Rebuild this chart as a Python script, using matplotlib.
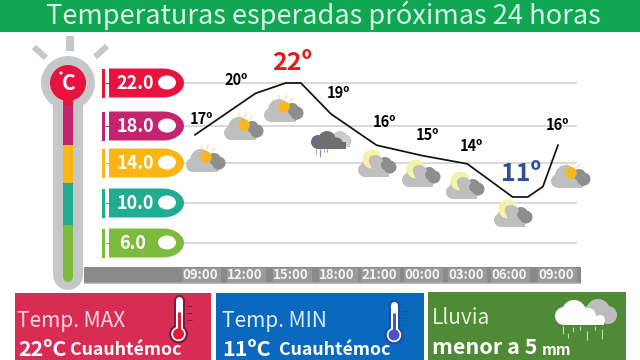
import numpy as np
import matplotlib
matplotlib.use("Agg")
import matplotlib.pyplot as plt
from matplotlib.patches import Rectangle, Circle, Ellipse, Polygon

# ---------- data ----------
title = "Temperaturas esperadas próximas 24 horas"
hours = [0, 3, 4, 6, 7, 9, 12, 15, 18, 21, 22, 23, 24]
temps = [17, 20, 21, 22, 22, 19, 16, 15, 14.2, 11, 11, 12, 16]
label_hours = [0, 3, 6, 9, 12, 15, 18, 21, 24]
label_temps = [17, 20, 22, 19, 16, 15, 14, 11, 16]
tick_labels = ["09:00", "12:00", "15:00", "18:00", "21:00", "00:00", "03:00", "06:00", "09:00"]
scale_values = ["22.0", "18.0", "14.0", "10.0", "6.0"]
scale_colors = ["#e8123f", "#c4246f", "#fbb616", "#20ab92", "#7dbb3c"]

# ---------- layout (pixels) ----------
W, H = 640, 360
plt.rcParams["font.family"] = ["Noto Sans CJK JP", "DejaVu Sans"]
fig = plt.figure(figsize=(6.4, 3.6), dpi=100, facecolor="white")
bg = fig.add_axes([0, 0, 1, 1], zorder=1)
bg.set_xlim(0, W); bg.set_ylim(H, 0); bg.axis("off")

def rect(x0, y0, x1, y1, c, z=2):
    bg.add_patch(Rectangle((x0, y0), x1 - x0, y1 - y0, fc=c, ec="none", zorder=z))

def circ(x, y, r, c, z=3):
    bg.add_patch(Circle((x, y), r, fc=c, ec="none", zorder=z))

def seg(x0, y0, x1, y1, c, w, z=3, cap="butt"):
    bg.plot([x0, x1], [y0, y1], color=c, lw=w * 0.72, zorder=z, solid_capstyle=cap)

# header
rect(0, 0, 640, 31.5, "#11a653")
bg.text(323, 24, title, color="#d8f7e2", fontsize=19.6, ha="center", va="baseline", zorder=5)

# grid lines and scale pills
grid_y = [83, 126, 163, 203, 243]
for y in grid_y:
    seg(184, y, 577, y, "#cfcfcf", 1.5, z=2)
for y, txt, c in zip(grid_y, scale_values, scale_colors):
    rect(102, y - 14, 105, y + 15, c)
    seg(105, y, 109, y, c, 1)
    t = np.linspace(-90, 90, 30)
    xs = 163 + 21 * np.cos(np.radians(t))
    ys = y + 14.5 * np.sin(np.radians(t))
    pts = [(109, y - 14.5)] + list(zip(xs, ys)) + [(109, y + 14.5)]
    bg.add_patch(Polygon(pts, closed=True, fc=c, ec="none", zorder=3))
    bg.add_patch(Ellipse((167, y - 0.5), 18, 14, fc="white", ec="none", zorder=4))
    bg.text(135 if txt != "6.0" else 133, y + 0.5, txt, color="white", fontsize=13,
            fontweight="bold", ha="center", va="center", zorder=5)

# thermometer
GREY = "#c6c7c9"
circ(68, 83, 27, GREY, 2)
seg(68, 90, 68, 275, GREY, 30, z=2, cap="round")
rect(63, 90, 73, 108, "#e8123f")
rect(63, 105, 73, 145, "#c4246f")
rect(63, 145, 73, 183, "#fbb616")
rect(63, 183, 73, 225, "#20ab92")
rect(63, 225, 73, 277, "#7dbb3c")
circ(68, 277, 5, "#7dbb3c")
circ(68, 83, 18, "#e8123f", 4)
bg.text(69, 83, "C", color="white", fontsize=15, fontweight="bold", ha="center", va="center", zorder=5)
circ(61, 73, 1.6, "white", 5)
seg(69.5, 36, 69.5, 51, GREY, 8)
seg(34, 47, 46, 58, GREY, 6)
seg(107, 46, 95, 57, GREY, 6)

# axis band
rect(84, 267, 581, 283, "#8a8a8a")
seg(84, 283, 581, 283, "#a6a6a6", 1.5)
tick_x = [200, 245, 291, 337, 379, 422, 466, 509, 556]
for x, lab in zip(tick_x, tick_labels):
    rect(x - 18, 268, x + 21, 282.5, "#9a9a9a")
    bg.text(x, 275, lab, color="#f3f3f3", fontsize=9.5, fontweight="bold",
            ha="center", va="center", zorder=5)

# weather icons
def cloud(x, b, c, z):
    circ(x + 8, b - 7, 7, c, z)
    circ(x + 16, b - 12, 11, c, z)
    circ(x + 26, b - 8, 8, c, z)
    rect(x + 8, b - 9, x + 32, b, c, z)

def dark_cloud(x, b, z=3):
    c = "#8e8e8e"
    circ(x + 29, b - 12, 7, c, z)
    circ(x + 34, b - 9, 6.5, c, z)
    circ(x + 29, b - 6, 6, c, z)

def sun_icon(x, b):
    sx, sy = x + 21, b - 15
    for a in (-150, -115, -80, -45, -15):
        ca, sa = np.cos(np.radians(a)), np.sin(np.radians(a))
        seg(sx + 8 * ca, sy + 8 * sa, sx + 13 * ca, sy + 13 * sa, "#f3dc9c", 1.2)
    dark_cloud(x, b)
    cloud(x, b, "#bfbfbf", 3.2)
    circ(sx, sy, 5.8, "#f7b71d", 3.4)
    circ(x + 30, b - 12, 5.5, "#8e8e8e", 3.3)
    circ(x + 33, b - 8, 5.5, "#8e8e8e", 3.3)

def moon_icon(x, b):
    cx, cy, r = x + 14, b - 18, 9.5
    d = np.radians(35)
    th = np.linspace(d + np.radians(55), d + np.radians(305), 30)
    outer = np.c_[cx + r * np.cos(th), cy + r * np.sin(th)]
    p0, p2 = outer[-1], outer[0]
    p1 = np.array([cx - 1.2 * r * np.cos(d), cy - 1.2 * r * np.sin(d)])
    s = np.linspace(0, 1, 15)[:, None]
    inner = (1 - s) ** 2 * p0 + 2 * s * (1 - s) * p1 + s ** 2 * p2
    dark_cloud(x - 2, b - 1)
    cloud(x - 1, b, "#bfbfbf", 3.2)
    bg.add_patch(Polygon(np.r_[outer, inner], closed=True, fc="#f3f3a8", ec="none", zorder=3.4))
    circ(x + 28, b - 12, 5, "#8e8e8e", 3.3)
    circ(x + 31, b - 9, 5, "#8e8e8e", 3.3)

for x, b in [(185, 172), (223, 140), (263, 122), (550, 188)]:
    sun_icon(x, b)
for x, b in [(358, 177), (402, 187), (446, 199), (494, 227)]:
    moon_icon(x, b)

# storm icon
circ(340, 139, 8, "#cdcdcd", 3); circ(345, 141, 6.5, "#cdcdcd", 3)
rect(333, 140, 350, 147, "#cdcdcd", 3)
circ(318, 142, 7, "#6f6f73", 3.2); circ(327, 140, 9, "#6f6f73", 3.2)
circ(337, 143, 5.5, "#6f6f73", 3.2); rect(318, 142, 346, 149, "#6f6f73", 3.2)
for x, y0, y1, c in [(316, 149, 155, "#b5b5d5"), (320, 149, 157, "#8f8fc0"),
                     (324, 149, 152, "#b5b5d5"), (327, 149, 152, "#8f8fc0")]:
    seg(x, y0, x, y1, c, 1.2)

# bottom panels
rect(15, 293, 211, 360, "#d92c55")
rect(216, 293, 424, 360, "#0a69bd")
rect(428, 292, 626, 360, "#4f8a36")
LT = dict(fontsize=15, va="center", ha="left", zorder=5)
bg.text(17, 321, "Temp. MAX", color="#fbdbe2", **LT)
bg.text(222, 321, "Temp. MIN", color="#dcecfa", **LT)
bg.text(432, 318, "Lluvia", color="#e6f2d8", **LT)
BD = dict(color="white", fontweight="bold", va="center", ha="left", zorder=5)
bg.text(18, 349, "22ºC", fontsize=15.5, **BD)
bg.text(70, 350, "Cuauhtémoc", fontsize=12.8, **BD)
bg.text(222, 349, "11ºC", fontsize=15.5, **BD)
bg.text(279, 350, "Cuauhtémoc", fontsize=12.8, **BD)
bg.text(432, 348, "menor a 5", fontsize=15.5, **BD)
bg.text(542, 350, "mm", fontsize=11, **BD)

def thermo(x, top, by, fill, edge):
    seg(x, top, x, by, edge, 11, z=3, cap="round")
    circ(x, by, 9.5, edge, 3)
    seg(x, top, x, by, "white", 7, z=3.2, cap="round")
    circ(x, by, 7.2, "white", 3.2)
    circ(x, by, 5.5, fill, 3.4)
    seg(x, by - 22, x, by, fill, 3, z=3.4)
    for k in range(3):
        seg(x + 8, top + 6 + 7 * k, x + 13, top + 6 + 7 * k, edge, 1, z=3)

thermo(178.5, 300, 334, "#e21b3c", "#7a1f3d")
thermo(394, 305, 335, "#4a52c9", "#1f4fa0")

# rain icon in the green panel
for (cx, cy, r) in [(598, 311, 12), (608, 315, 9), (588, 314, 8)]:
    circ(cx, cy, r, "#bdbdbd", 3)
for (cx, cy, r) in [(564, 316, 9), (574, 312, 12), (588, 316, 8), (600, 320, 5)]:
    circ(cx, cy, r, "white", 3.2)
rect(564, 316, 604, 325, "white", 3.2)
for x, y0, y1 in [(563, 326, 334), (568, 333, 338), (573, 327, 332), (580, 326, 330),
                  (587, 331, 340), (595, 326, 330), (602, 329, 339)]:
    seg(x, y0, x, y1, "#b9d8a0", 1.2)

# temperature line drawn through its own scale
px = lambda a, b: (a / W, 1 - b / H)
left, bottom = px(195, 197)
right, top = px(558, 83)
ax = fig.add_axes([left, bottom, right - left, top - bottom], zorder=2)
ax.patch.set_alpha(0)
ax.set_xlim(0, 24); ax.set_ylim(11, 22); ax.axis("off")
ax.plot(hours, temps, color="#111111", lw=1.25, clip_on=False, solid_joinstyle="round")

offsets = [(6, 16), (-4, 24), (6, 20), (7, 21), (8, 23), (6, 20.5), (4, 20), (8, 23), (-1, 20)]
for h, t, off in zip(label_hours, label_temps, offsets):
    big = t in (22, 11)
    color = "#e01b1b" if t == 22 else "#2c4f95" if t == 11 else "black"
    ax.annotate(f"{t}º", xy=(h, t), xytext=off, textcoords="offset pixels",
                ha="center", va="center", color=color, annotation_clip=False,
                fontsize=18 if big else 10.5, fontweight="bold")

fig.savefig("out.png", dpi=100, facecolor="white")
